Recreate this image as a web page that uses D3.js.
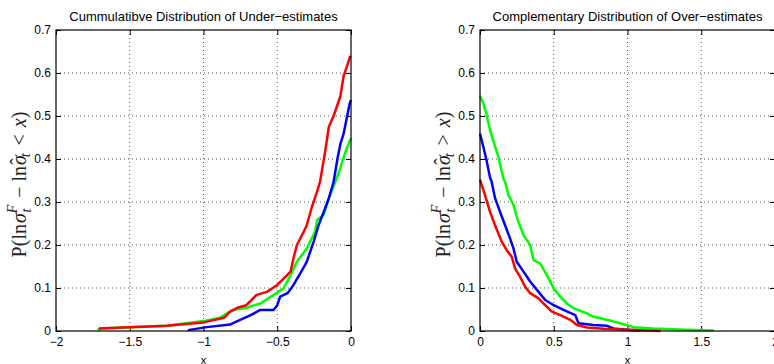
<!DOCTYPE html>
<html>
<head>
<meta charset="utf-8">
<script src="https://d3js.org/d3.v7.min.js"></script>
<style>
body { margin: 0; background: #fff; }
svg { display: block; }
.tick text { font-family: "Liberation Sans", Arial, sans-serif; font-size: 12px; fill: #000; }
</style>
</head>
<body>
<div id="chart"></div>
<script>
// tick values
var yTicks = [0, 0.1, 0.2, 0.3, 0.4, 0.5, 0.6, 0.7];
var underTicks = [-2, -1.5, -1, -0.5, 0];
var overTicks = [0, 0.5, 1, 1.5, 2];

// under-estimates (cumulative), [x, P]
var underRed = [[-1.71,0.006],[-1.25,0.012],[-1.0,0.02],[-0.86,0.031],[-0.82,0.045],[-0.77,0.054],[-0.71,0.06],
    [-0.64,0.084],[-0.57,0.091],[-0.5,0.107],[-0.457,0.122],[-0.41,0.138],[-0.39,0.169],[-0.367,0.2],[-0.32,0.231],
    [-0.3,0.246],[-0.265,0.289],[-0.23,0.324],[-0.21,0.347],[-0.174,0.42],[-0.15,0.475],[-0.118,0.5],[-0.072,0.546],
    [-0.05,0.593],[-0.027,0.616],[-0.005,0.64]];
var underBlue = [[-1.106,0.002],[-0.977,0.009],[-0.82,0.015],[-0.77,0.023],[-0.68,0.037],[-0.615,0.049],[-0.525,0.049],
    [-0.5,0.06],[-0.48,0.08],[-0.43,0.088],[-0.39,0.107],[-0.344,0.134],[-0.3,0.161],[-0.253,0.208],[-0.22,0.246],
    [-0.185,0.277],[-0.15,0.309],[-0.118,0.347],[-0.09,0.404],[-0.072,0.435],[-0.05,0.459],[-0.027,0.498],
    [-0.009,0.529],[0,0.537]];
var underGreen = [[-1.717,0.002],[-1.7,0.006],[-1.25,0.012],[-1.0,0.023],[-0.887,0.031],[-0.8,0.049],[-0.71,0.054],
    [-0.615,0.064],[-0.525,0.084],[-0.457,0.099],[-0.41,0.13],[-0.367,0.161],[-0.3,0.192],[-0.243,0.231],[-0.23,0.258],
    [-0.185,0.27],[-0.15,0.309],[-0.106,0.347],[-0.072,0.38],[-0.05,0.404],[-0.027,0.427],[0,0.448]];

// over-estimates (complementary), [x, P]
var overRed = [[0,0.352],[0.034,0.316],[0.068,0.277],[0.102,0.246],[0.147,0.208],[0.181,0.188],[0.215,0.173],
    [0.238,0.145],[0.272,0.126],[0.306,0.103],[0.34,0.088],[0.397,0.076],[0.43,0.064],[0.487,0.045],[0.544,0.037],
    [0.612,0.026],[0.657,0.014],[0.725,0.008],[0.838,0.005],[0.997,0.003],[1.224,0.0]];
var overBlue = [[0,0.459],[0.023,0.428],[0.045,0.396],[0.068,0.357],[0.079,0.347],[0.102,0.309],[0.136,0.277],
    [0.17,0.246],[0.204,0.215],[0.227,0.192],[0.249,0.161],[0.295,0.138],[0.34,0.115],[0.397,0.091],[0.442,0.072],
    [0.5,0.06],[0.566,0.049],[0.646,0.037],[0.668,0.018],[0.77,0.014],[0.861,0.012],[0.906,0.006],[0.997,0.003],[1.088,0.001]];
var overGreen = [[0,0.547],[0.023,0.529],[0.045,0.502],[0.068,0.467],[0.09,0.443],[0.125,0.404],[0.159,0.354],
    [0.17,0.347],[0.193,0.316],[0.227,0.293],[0.26,0.254],[0.295,0.223],[0.34,0.2],[0.363,0.165],[0.408,0.157],
    [0.453,0.13],[0.5,0.099],[0.544,0.08],[0.589,0.064],[0.634,0.053],[0.725,0.041],[0.77,0.033],[0.861,0.026],
    [0.95,0.018],[1.042,0.009],[1.178,0.006],[1.405,0.003],[1.586,0.001]];

var width = 774, height = 364;
var svg = d3.select("#chart").append("svg").attr("width", width).attr("height", height);

function drawPanel(left, xDomain, xTicks, series, title, sign) {
    var w = 295, h = 301, top = 30;
    var g = svg.append("g").attr("transform", "translate(" + left + "," + top + ")");
    var x = d3.scaleLinear().domain(xDomain).range([0, w]);
    var y = d3.scaleLinear().domain([0, 0.7]).range([h, 0]);

    // grid
    g.selectAll(".gx").data(xTicks.slice(1, -1)).enter().append("line")
        .attr("x1", function (d) { return x(d); }).attr("x2", function (d) { return x(d); })
        .attr("y1", 0).attr("y2", h)
        .attr("stroke", "#555").attr("stroke-dasharray", "1,3");
    g.selectAll(".gy").data(yTicks.slice(1, -1)).enter().append("line")
        .attr("y1", function (d) { return y(d); }).attr("y2", function (d) { return y(d); })
        .attr("x1", 0).attr("x2", w)
        .attr("stroke", "#555").attr("stroke-dasharray", "1,3");

    // axes with inward ticks
    var fmt = function (d) { return d3.format("")(d).replace("-", "\u2212"); };
    g.append("g").attr("transform", "translate(0," + h + ")")
        .call(d3.axisBottom(x).tickValues(xTicks).tickSize(-5).tickPadding(6).tickFormat(fmt))
        .call(function (a) { a.select(".domain").remove(); });
    g.append("g")
        .call(d3.axisLeft(y).tickValues(yTicks).tickSize(-5).tickPadding(5).tickFormat(d3.format("")))
        .call(function (a) { a.select(".domain").remove(); });
    g.append("g")
        .call(d3.axisTop(x).tickValues(xTicks).tickSize(-5).tickFormat(""))
        .call(function (a) { a.select(".domain").remove(); });
    g.append("g").attr("transform", "translate(" + w + ",0)")
        .call(d3.axisRight(y).tickValues(yTicks).tickSize(-5).tickFormat(""))
        .call(function (a) { a.select(".domain").remove(); });

    // curves
    var line = d3.line().x(function (d) { return x(d[0]); }).y(function (d) { return y(d[1]); });
    series.forEach(function (s) {
        g.append("path").datum(s.data)
            .attr("d", line)
            .attr("fill", "none")
            .attr("stroke", s.color)
            .attr("stroke-width", 2.5)
            .attr("stroke-linejoin", "round");
    });

    // frame
    g.append("rect").attr("width", w).attr("height", h)
        .attr("fill", "none").attr("stroke", "#000").attr("stroke-width", 1.2);

    // title
    g.append("text").attr("x", w / 2).attr("y", -9)
        .attr("text-anchor", "middle")
        .style("font-family", "Liberation Sans, Arial, sans-serif").style("font-size", "13px")
        .text(title);

    // x label
    g.append("text").attr("x", w / 2).attr("y", h + 33)
        .attr("text-anchor", "middle")
        .style("font-family", "Liberation Sans, Arial, sans-serif").style("font-size", "11px")
        .text("x");

    // y label (latex style)
    var lab = g.append("text")
        .attr("transform", "translate(" + (-30) + "," + (h / 2 + 4) + ") rotate(-90)")
        .attr("text-anchor", "middle")
        .attr("fill", "#222")
        .style("font-family", "Liberation Serif, DejaVu Serif, serif").style("font-size", "20px");
    lab.append("tspan").text("P(ln");
    lab.append("tspan").attr("dx", 1).style("font-style", "italic").text("\u03C3");
    lab.append("tspan").attr("dy", -9).style("font-style", "italic").style("font-size", "14px").text("F");
    lab.append("tspan").attr("dx", -8).attr("dy", 14).style("font-style", "italic").style("font-size", "14px").text("t");
    lab.append("tspan").attr("dy", -5).attr("dx", 6).text(" \u2212 ln");
    lab.append("tspan").attr("dx", 1).style("font-style", "italic").text("\u03C3");
    lab.append("tspan").attr("dx", -10).attr("dy", -1).text("\u02C6");
    lab.append("tspan").attr("dx", 1).attr("dy", 5).style("font-style", "italic").style("font-size", "14px").text("t");
    lab.append("tspan").attr("dy", -4).attr("dx", 3).text(sign);
    lab.append("tspan").attr("dx", 2).style("font-style", "italic").text("x");
    lab.append("tspan").text(")");
}

drawPanel(56, [-2, 0], underTicks,
    [{ data: underGreen, color: "#00ff00" }, { data: underBlue, color: "#0000ff" }, { data: underRed, color: "#ff0000" }],
    "Cummulatibve Distribution of Under\u2212estimates", " < ");
drawPanel(480, [0, 2], overTicks,
    [{ data: overGreen, color: "#00ff00" }, { data: overBlue, color: "#0000ff" }, { data: overRed, color: "#ff0000" }],
    "Complementary Distribution of Over\u2212estimates", " > ");
</script>
</body>
</html>
